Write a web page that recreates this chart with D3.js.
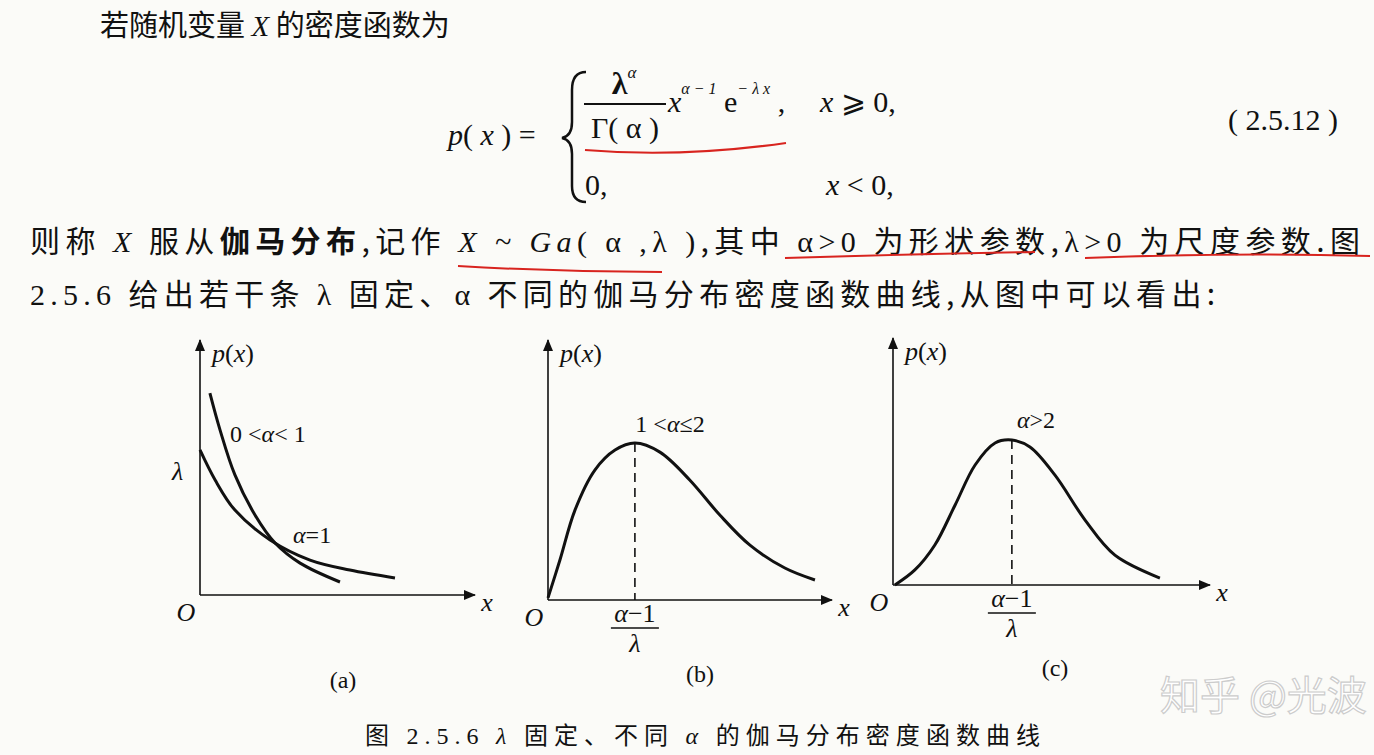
<!DOCTYPE html>
<html><head><meta charset="utf-8">
<script src="https://cdn.jsdelivr.net/npm/d3@7"></script>
<style>body{margin:0;background:#fbfbf8}svg{display:block}</style>
</head><body>
<div id="chart"></div>
<script>
// curve samples, panel units 0..10
const curveA1 = [[0.36,7.92],[0.73,6.47],[1.27,4.71],[2,3.14],[2.73,2.04],[3.64,1.25],[5.09,0.51]];
const curveA2 = [[0,5.69],[0.55,4.51],[1.27,3.33],[2.55,2.16],[4,1.37],[5.45,0.98],[7.09,0.67]];
const curveB = [[0,0.08],[0.42,1.54],[0.95,3.46],[1.65,5],[2.36,5.77],[3.06,6.04],[3.94,5.69],[4.99,4.62],[6.05,3.27],[7.1,2.12],[8.34,1.23],[9.4,0.77]];
const curveC = [[0.06,0],[0.69,0.61],[1.32,1.62],[1.96,3.24],[2.59,4.86],[3.22,5.75],[3.75,5.87],[4.32,5.59],[5.11,4.45],[6.06,2.63],[7,1.21],[8.42,0.28]];
const panelLabels = ['(a)', '(b)', '(c)'];

const svg = d3.select('#chart').append('svg').attr('width', 1374).attr('height', 755);
const serif = '"Liberation Serif","DejaVu Serif",serif';
const cjk = '"Noto Sans CJK SC",sans-serif';

svg.append('defs').append('marker')
    .attr('id', 'arr').attr('viewBox', '0 -5 12 10').attr('refX', 11).attr('refY', 0)
    .attr('orient', 'auto').attr('markerWidth', 12).attr('markerHeight', 10).attr('markerUnits', 'userSpaceOnUse')
    .append('path').attr('d', 'M0,-5L12,0L0,5Z').attr('fill', '#111');

function txt(x, y, size, parts, opts = {}) {
    const t = svg.append('text').attr('x', x).attr('y', y).attr('font-size', size)
        .attr('font-family', opts.family || cjk).attr('fill', '#111');
    if (opts.anchor) t.attr('text-anchor', opts.anchor);
    if (opts.len) t.attr('textLength', opts.len).attr('lengthAdjust', 'spacing');
    parts.forEach(p => {
        if (typeof p === 'string') { t.append('tspan').text(p); return; }
        const s = t.append('tspan').text(p.t);
        if (p.i) s.attr('font-style', 'italic').attr('font-family', serif);
        if (p.s) s.attr('font-family', serif);
        if (p.b) s.attr('font-weight', 'bold');
        if (p.dy) s.attr('dy', p.dy);
        if (p.fs) s.attr('font-size', p.fs);
    });
    return t;
}

// body text
txt(100, 36, 29, ['若随机变量 ', {t: 'X', i: 1}, ' 的密度函数为']);
txt(448, 145, 30, [{t: 'p', i: 1}, {t: '( ', s: 1}, {t: 'x', i: 1}, {t: ' ) =', s: 1}], {family: serif});
svg.append('path').attr('d', 'M586,72 Q572,72 572,90 L572,122 Q572,136 562,138 Q572,140 572,154 L572,186 Q572,202 586,202')
    .attr('fill', 'none').attr('stroke', '#111').attr('stroke-width', 2.5);
txt(624, 94, 32, [{t: 'λ', s: 1, b: 1}, {t: 'α', i: 1, fs: 17, dy: -16}], {family: serif, anchor: 'middle'});
svg.append('line').attr('x1', 584).attr('x2', 666).attr('y1', 104).attr('y2', 104).attr('stroke', '#111').attr('stroke-width', 2);
txt(625, 138, 30, ['Γ( α )'], {family: serif, anchor: 'middle'});
txt(668, 112, 30, [{t: 'x', i: 1}, {t: 'α − 1', i: 1, fs: 16, dy: -18}, {t: ' e', s: 1, fs: 30, dy: 18}, {t: '− λ x', i: 1, fs: 16, dy: -18}, {t: ' ,', s: 1, fs: 30, dy: 18}], {family: serif});
txt(820, 112, 30, [{t: 'x', i: 1}, {t: ' ⩾ 0,', s: 1}], {family: serif});
txt(585, 195, 30, ['0,'], {family: serif});
txt(826, 195, 30, [{t: 'x', i: 1}, {t: ' <  0,', s: 1}], {family: serif});
txt(1228, 130, 30, ['( 2.5.12 )'], {family: serif});

txt(30, 252, 30, ['则称 ', {t: 'X', i: 1}, ' 服从', {t: '伽马分布', b: 1}, ',记作 ', {t: 'X ~ Ga', i: 1}, {t: '( α ,λ )', s: 1}, ',其中 ', {t: 'α>0', s: 1}, ' 为形状参数,', {t: 'λ>0', s: 1}, ' 为尺度参数.图'], {len: 1330});
txt(30, 305, 30, [{t: '2.5.6', s: 1}, ' 给出若干条 ', {t: 'λ', s: 1}, ' 固定、', {t: 'α', s: 1}, ' 不同的伽马分布密度函数曲线,从图中可以看出:'], {len: 1185});

// red pen underlines
const red = ['M585,150 Q680,158 786,143', 'M458,266 Q560,272 662,272', 'M785,258 Q910,254 1035,252', 'M1085,258 Q1230,252 1370,256'];
svg.selectAll('.red').data(red).enter().append('path').attr('d', d => d)
    .attr('fill', 'none').attr('stroke', '#d8241f').attr('stroke-width', 2);

// panels
const panels = [
    {x0: 200, x1: 475, y0: 595, top: 340, curves: [curveA1, curveA2], label: [343, 688], k: 0.927},
    {x0: 548, x1: 832, y0: 600, top: 340, curves: [curveB], label: [700, 682], peak: curveB[5], k: 0.915},
    {x0: 893, x1: 1210, y0: 585, top: 338, curves: [curveC], label: [1055, 676], peak: curveC[6], k: 0.779}
];
const line = d3.line().curve(d3.curveCatmullRom.alpha(0.5));

panels.forEach((p, i) => {
    const x = d3.scaleLinear().domain([0, 10]).range([p.x0, p.x1]);
    const ys = d3.scaleLinear().domain([0, 10]).range([p.y0, p.y0 - (p.x1 - p.x0) * p.k]);
    svg.append('line').attr('x1', p.x0).attr('x2', p.x1).attr('y1', p.y0).attr('y2', p.y0)
        .attr('stroke', '#111').attr('stroke-width', 1.6).attr('marker-end', 'url(#arr)');
    svg.append('line').attr('x1', p.x0).attr('x2', p.x0).attr('y1', p.y0).attr('y2', p.top)
        .attr('stroke', '#111').attr('stroke-width', 1.6).attr('marker-end', 'url(#arr)');
    p.curves.forEach(c => svg.append('path').attr('d', line(c.map(d => [x(d[0]), ys(d[1])])))
        .attr('fill', 'none').attr('stroke', '#111').attr('stroke-width', 3));
    txt(p.x0 + 12, p.top + 22, 26, [{t: 'p', i: 1}, {t: '(', s: 1}, {t: 'x', i: 1}, {t: ')', s: 1}], {family: serif});
    txt(p.x0 - 14, p.y0 + 26, 26, [{t: 'O', i: 1}], {family: serif, anchor: 'middle'});
    txt(p.x1 + 12, p.y0 + 16, 26, [{t: 'x', i: 1}], {family: serif, anchor: 'middle'});
    txt(p.label[0], p.label[1], 24, [panelLabels[i]], {family: serif, anchor: 'middle'});
    if (p.peak) {
        const px = x(p.peak[0]);
        svg.append('line').attr('x1', px).attr('x2', px).attr('y1', ys(p.peak[1])).attr('y2', p.y0)
            .attr('stroke', '#111').attr('stroke-width', 1.6).attr('stroke-dasharray', '9,6');
        txt(px, p.y0 + 22, 26, [{t: 'α', i: 1}, {t: '−1', s: 1}], {family: serif, anchor: 'middle'});
        svg.append('line').attr('x1', px - 24).attr('x2', px + 24).attr('y1', p.y0 + 28).attr('y2', p.y0 + 28)
            .attr('stroke', '#111').attr('stroke-width', 1.6);
        txt(px, p.y0 + 52, 26, [{t: 'λ', i: 1}], {family: serif, anchor: 'middle'});
    }
});

// panel annotations
txt(230, 442, 24, [{t: '0 <', s: 1}, {t: 'α', i: 1}, {t: '< 1', s: 1}], {family: serif});
txt(293, 543, 24, [{t: 'α', i: 1}, {t: '=1', s: 1}], {family: serif});
txt(172, 480, 26, [{t: 'λ', i: 1}], {family: serif});
txt(670, 432, 24, [{t: '1 <', s: 1}, {t: 'α', i: 1}, {t: '≤2', s: 1}], {family: serif, anchor: 'middle'});
txt(1036, 428, 24, [{t: 'α', i: 1}, {t: '>2', s: 1}], {family: serif, anchor: 'middle'});

txt(365, 744, 24, ['图 ', {t: '2.5.6', s: 1}, '   ', {t: 'λ', i: 1}, ' 固定、不同 ', {t: 'α', i: 1}, ' 的伽马分布密度函数曲线'], {len: 675});
txt(1160, 710, 40, ['知乎 @光波'], {}).attr('fill', '#fff').attr('stroke', '#ccc').attr('stroke-width', 1.2);
</script>
</body></html>
